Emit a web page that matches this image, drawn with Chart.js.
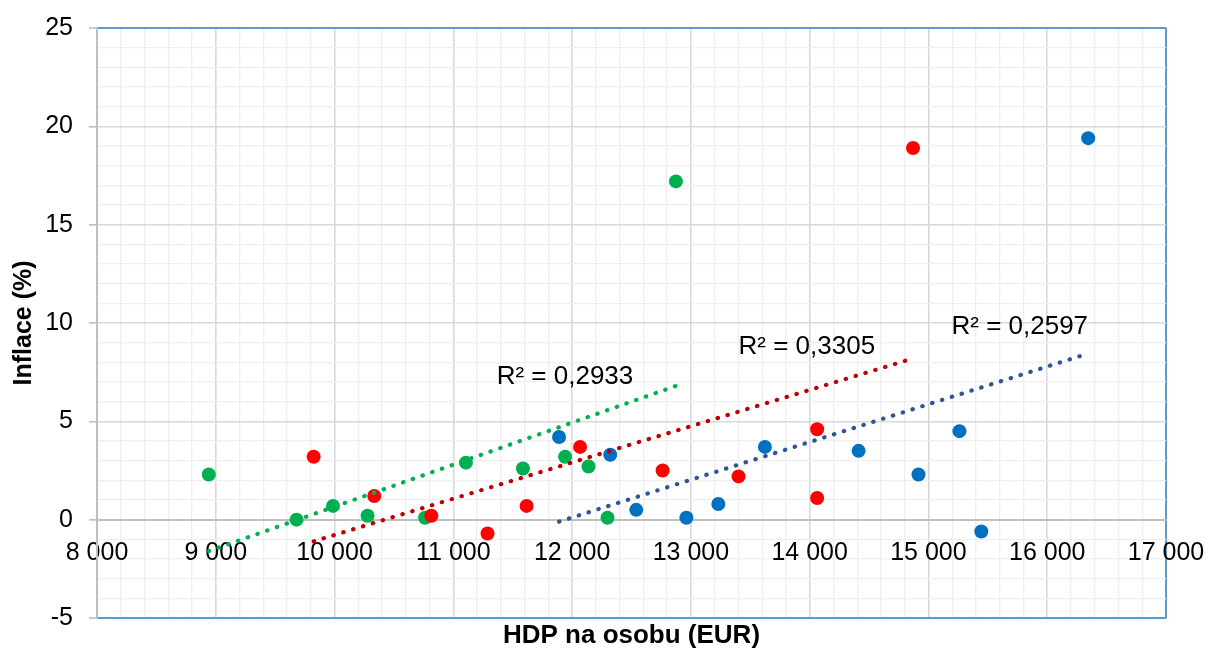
<!DOCTYPE html>
<html>
<head>
<meta charset="utf-8">
<script src="https://cdn.jsdelivr.net/npm/chart.js@4"></script>
<style>
html,body{margin:0;padding:0;background:#fff;}
#wrap{width:1209px;height:649px;}
</style>
</head>
<body>
<div id="wrap"><canvas id="c" width="1209" height="649"></canvas></div>
<script>
// ---- data ----
const blueX = [11890, 12321, 12540, 12962, 13231, 13623, 14412, 14916, 15261, 15445, 16345];
const blueY = [4.2, 3.3, 0.5, 0.1, 0.8, 3.7, 3.5, 2.3, 4.5, -0.6, 19.4];
const redX = [9824, 10334, 10815, 11288, 11617, 12067, 12762, 13401, 14063, 14063, 14870];
const redY = [3.2, 1.2, 0.2, -0.7, 0.7, 3.7, 2.5, 2.2, 4.6, 1.1, 18.9];
const greenX = [8941, 9680, 9987, 10278, 10762, 11106, 11586, 11941, 12138, 12298, 12874];
const greenY = [2.3, 0.0, 0.7, 0.2, 0.1, 2.9, 2.6, 3.2, 2.7, 0.1, 17.2];

// trendline end points
const blueTrendX = [11890, 16345];
const blueTrendY = [-0.1, 8.45];
const redTrendX = [9824, 14870];
const redTrendY = [-1.1, 8.2];
const greenTrendX = [8941, 12874];
const greenTrendY = [-1.6, 6.8];

const r2Labels = ['R² = 0,2597', 'R² = 0,3305', 'R² = 0,2933'];
const r2LabelX = [15769, 13976, 11940];
const r2LabelY = [9.79, 8.8, 7.27];

const xTickValues = [8000, 9000, 10000, 11000, 12000, 13000, 14000, 15000, 16000, 17000];
const xTickLabels = ['8 000', '9 000', '10 000', '11 000', '12 000', '13 000', '14 000', '15 000', '16 000', '17 000'];
const yTickValues = [-5, 0, 5, 10, 15, 20, 25];
const yTickLabels = ['-5', '0', '5', '10', '15', '20', '25'];

const xTitle = 'HDP na osobu (EUR)';
const yTitle = 'Inflace (%)';

// ---- helpers ----
const pts = (xs, ys) => xs.map((x, i) => ({x: x, y: ys[i]}));
const FONT = '"Liberation Sans", Arial, sans-serif';
const BLUE_FRAME = '#5b9bd5';

const r2Plugin = {
  id: 'r2labels',
  afterDatasetsDraw(chart) {
    const ctx = chart.ctx, xs = chart.scales.x, ys = chart.scales.y;
    ctx.save();
    ctx.font = '26px ' + FONT;
    ctx.fillStyle = '#000';
    ctx.textAlign = 'center';
    ctx.textBaseline = 'middle';
    r2Labels.forEach((t, i) => {
      ctx.fillText(t, xs.getPixelForValue(r2LabelX[i]), ys.getPixelForValue(r2LabelY[i]));
    });
    ctx.restore();
  }
};

const trend = (xs, ys, color) => ({
  type: 'line',
  data: pts(xs, ys),
  borderColor: color,
  borderWidth: 4.2,
  borderDash: [0.5, 9.8],
  borderCapStyle: 'round',
  pointRadius: 0,
  fill: false,
  order: 0
});
const scatter = (xs, ys, color) => ({
  type: 'scatter',
  data: pts(xs, ys),
  backgroundColor: color,
  borderWidth: 0,
  pointRadius: 7,
  order: 1
});

new Chart(document.getElementById('c'), {
  data: {
    datasets: [
      trend(blueTrendX, blueTrendY, '#2f5597'),
      trend(redTrendX, redTrendY, '#c00000'),
      trend(greenTrendX, greenTrendY, '#00b050'),
      scatter(blueX, blueY, '#0070c0'),
      scatter(redX, redY, '#ff0000'),
      scatter(greenX, greenY, '#00b050')
    ]
  },
  options: {
    responsive: false,
    animation: false,
    layout: {padding: {left: 0, top: 28, right: 43, bottom: 0}},
    plugins: {
      legend: {display: false},
      tooltip: {enabled: false},
      title: {
        display: true, position: 'bottom', fullSize: false, text: xTitle, color: '#000',
        font: {family: FONT, size: 26, weight: 'bold', lineHeight: 1.0},
        padding: {top: 5, bottom: 0}
      }
    },
    scales: {
      x: {
        type: 'linear', min: 8000, max: 17000,
        position: {y: 0},
        ticks: {
          stepSize: 200, autoSkip: false, maxRotation: 0, minRotation: 0, padding: 10,
          color: '#000', font: {family: FONT, size: 25},
          callback: v => { const i = xTickValues.indexOf(Math.round(v)); return i >= 0 ? xTickLabels[i] : ''; }
        },
        grid: {
          color: c => { const v = Math.round(c.tick.value); return v === 17000 ? BLUE_FRAME : (v % 1000 === 0 ? '#d9d9d9' : '#efefef'); },
          lineWidth: c => { const v = Math.round(c.tick.value); return v === 17000 ? 2 : (v % 1000 === 0 ? 1.6 : 1.3); },
          tickLength: 8,
          tickColor: 'transparent'
        },
        border: {color: '#bfbfbf', width: 2},
        afterFit: s => { s.paddingLeft = 0; s.paddingRight = 0; }
      },
      y: {
        type: 'linear', min: -5, max: 25,
        ticks: {
          stepSize: 1, autoSkip: false, padding: 16,
          color: '#000', font: {family: FONT, size: 25},
          callback: v => { const i = yTickValues.indexOf(Math.round(v)); return i >= 0 ? yTickLabels[i] : ''; }
        },
        title: {
          display: true, text: yTitle, color: '#000',
          font: {family: FONT, size: 25, weight: 'bold', lineHeight: 1.0},
          padding: {top: 12, bottom: 0}
        },
        grid: {
          color: c => { const v = Math.round(c.tick.value); return (v === 25 || v === -5) ? BLUE_FRAME : (v % 5 === 0 ? '#d9d9d9' : '#efefef'); },
          lineWidth: c => { const v = Math.round(c.tick.value); return (v === 25 || v === -5) ? 2 : (v % 5 === 0 ? 1.6 : 1.3); },
          tickLength: 8,
          tickColor: c => (Math.round(c.tick.value) % 5 === 0 ? '#bfbfbf' : 'transparent'),
          tickWidth: 1.6
        },
        border: {color: '#bfbfbf', width: 2},
        afterFit: s => { s.width = 97; s.paddingTop = 0; s.paddingBottom = 0; }
      }
    }
  },
  plugins: [r2Plugin]
});
</script>
</body>
</html>
